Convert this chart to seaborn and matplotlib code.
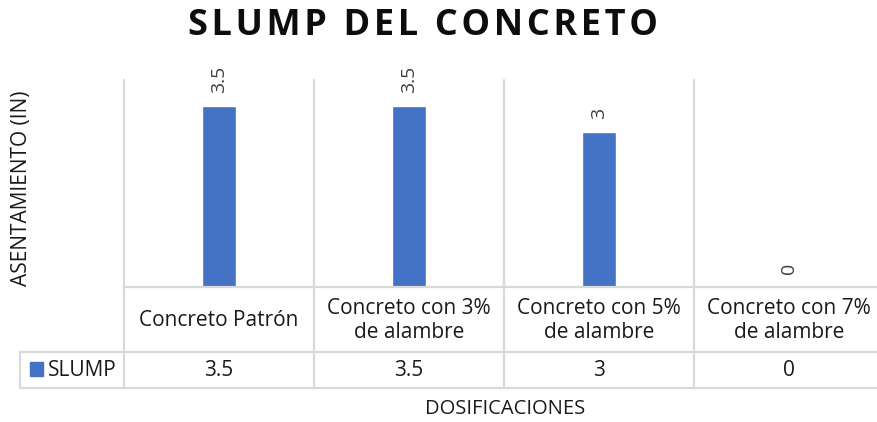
import matplotlib
matplotlib.use("Agg")
import matplotlib.pyplot as plt
import seaborn as sns
import pandas as pd
from matplotlib.lines import Line2D
from matplotlib.patches import Rectangle

# data
categories = ["Concreto Patrón", "Concreto con 3%\nde alambre",
              "Concreto con 5%\nde alambre", "Concreto con 7%\nde alambre"]
slump = [3.5, 3.5, 3.0, 0.0]
value_labels = ["3.5", "3.5", "3", "0"]
series_name = "SLUMP"
title = "SLUMP DEL CONCRETO"

BLUE = "#4472c4"
GRID = "#d9d9d9"
W, H = 878, 422

sns.set_theme(style="white")
plt.rcParams["font.family"] = ["Open Sans", "DejaVu Sans"]

df = pd.DataFrame({"cat": categories, "val": slump})

fig = plt.figure(figsize=(W / 100, H / 100), dpi=100)

def fx(px):
    return px / W

def fy(py):
    return 1 - py / H

# plot area in pixel coords
left, right, top, base = 124, 878, 80, 287
cat_w = 190
ax = fig.add_axes([fx(left), fy(base), fx(right - left), (base - top) / H])
sns.barplot(data=df, x="cat", y="val", color=BLUE, width=34 / cat_w, ax=ax,
            saturation=1)
ax.set_xlim(-0.5, -0.5 + (right - left) / cat_w)
ax.set_ylim(0, 4)
ax.set_axis_off()

for i, (v, lab) in enumerate(zip(slump, value_labels)):
    ax.annotate(lab, (i, v), xytext=(0, 9), textcoords="offset points",
                rotation=90, ha="center", va="bottom", fontsize=14,
                color="#404040")

# table lines (figure coords)
def hline(y, x0, x1):
    fig.add_artist(Line2D([fx(x0), fx(x1)], [fy(y), fy(y)], color=GRID, lw=1.6))

def vline(x, y0, y1):
    fig.add_artist(Line2D([fx(x), fx(x)], [fy(y0), fy(y1)], color=GRID, lw=1.6))

row1, row2, row3 = 287, 352, 388
hline(row1, left, W)
hline(row2, 20, W)
hline(row3, 20, W)
vline(20, row2, row3)
for k in range(4):
    vline(left + k * cat_w, top, row3)

for k, (c, lab) in enumerate(zip(categories, value_labels)):
    cx = left + (k + 0.5) * cat_w
    fig.text(fx(cx), fy((row1 + row2) / 2 + 1), c, ha="center", va="center",
             fontsize=15, color="#1a1a1a", linespacing=1.2)
    fig.text(fx(cx), fy((row2 + row3) / 2), lab, ha="center", va="center",
             fontsize=15, color="#1a1a1a")

# legend key inside the table
fig.add_artist(Rectangle((fx(30), fy(376)), fx(13), 14 / H, color=BLUE))
fig.text(fx(48), fy((row2 + row3) / 2), series_name, ha="left", va="center",
         fontsize=15, color="#1a1a1a")

spaced_title = "\u200a".join(title)
fig.text(fx(423), fy(26), spaced_title, ha="center", va="center",
         fontsize=26, fontweight="bold", color="#0d0d0d")
fig.text(fx(22), fy(188), "ASENTAMIENTO (IN)", ha="center", va="center",
         rotation=90, fontsize=15, color="#1a1a1a")
fig.text(fx(505), fy(409), "DOSIFICACIONES", ha="center", va="center",
         fontsize=14.5, color="#1a1a1a")

fig.savefig("out.png", dpi=100, facecolor="white")
